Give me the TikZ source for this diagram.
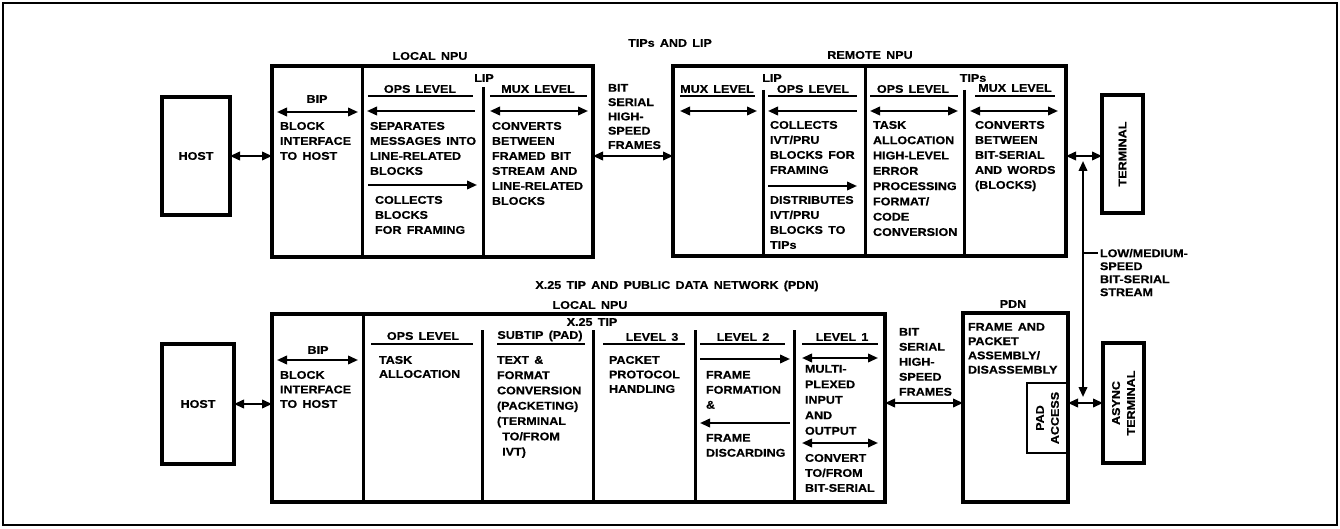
\documentclass[tikz,border=0pt]{standalone}
\usepackage{fontspec}
\newfontfamily\diafont{Liberation Sans}[FakeStretch=1.12, BoldFeatures={FakeStretch=1.12, FakeBold=0.6, WordSpace=1.5}]
\usetikzlibrary{arrows.meta}
\begin{document}
\begin{tikzpicture}[x=1pt,y=-1pt,
  lbl/.style={font=\diafont\bfseries\fontsize{11.2}{15}\selectfont, inner sep=0pt, outer sep=0pt},
  body/.style={lbl, anchor=north west, align=left},
  blk/.style={draw, line width=3.2pt, inner sep=0pt, outer sep=0pt, anchor=north west},
  sep/.style={line width=3pt},
  rule/.style={line width=1.5pt},
  tip/.style={line width=2.1pt},
  both/.style={tip, {Triangle[length=10pt,width=8.5pt]}-{Triangle[length=10pt,width=8.5pt]}},
  fwd/.style={tip, -{Triangle[length=10pt,width=8.5pt]}},
  back/.style={tip, {Triangle[length=10pt,width=8.5pt]}-},
]
\useasboundingbox (0,0) rectangle (1340,529);
\draw[line width=2.4pt] (3,3) rectangle (1337,525);

% ---------------- upper diagram: TIPs and LIP ----------------
\node[lbl] (ttlA) at (670,43) {TIPs AND LIP};
\node[lbl] (lnpuA) at (430,56) {LOCAL NPU};
\node[lbl] (rnpuA) at (870,55) {REMOTE NPU};

\node[blk, lbl, minimum width=68pt, minimum height=118pt] (hostA) at (162,97) {HOST};
\node[blk, minimum width=321pt, minimum height=191pt] (localA) at (272,66) {};
\draw[both] (hostA.east) -- (localA.west |- hostA.east);

% local NPU cells
\draw[sep] (362,66) -- (362,257);
\draw[sep] (483,87) -- (483,257);
\node[lbl] (lipA) at (484,78) {LIP};

\node[lbl] (bipA) at (317,99) {BIP};
\draw[both] (277,112) -- (358,112);
\node[body] (bipAt) at (280,122) {BLOCK\\INTERFACE\\TO HOST};

\node[lbl] (opsA) at (420,89) {OPS LEVEL};
\draw[rule] (368,96) -- (473,96);
\draw[back] (367,111) -- (475,111);
\node[body] (opsAt) at (370,122) {SEPARATES\\MESSAGES INTO\\LINE-RELATED\\BLOCKS};
\draw[fwd] (368,185) -- (477,185);
\node[body] (opsAu) at (375,196) {COLLECTS\\BLOCKS\\FOR FRAMING};

\node[lbl] (muxA) at (538,89) {MUX LEVEL};
\draw[rule] (490,96) -- (587,96);
\draw[both] (490,111) -- (588,111);
\node[body] (muxAt) at (492,122) {CONVERTS\\BETWEEN\\FRAMED BIT\\STREAM AND\\LINE-RELATED\\BLOCKS};

% link between the two NPUs
\node[body, font=\diafont\bfseries\fontsize{11.2}{14.3}\selectfont] (bsA) at (608,84) {BIT\\SERIAL\\HIGH-\\SPEED\\FRAMES};
\node[blk, minimum width=393pt, minimum height=190pt] (remoteA) at (673,66) {};
\draw[both] (localA.east |- hostA.east) -- (remoteA.west |- hostA.east);

% remote NPU cells
\draw[sep] (763,90) -- (763,256);
\draw[sep] (865,66) -- (865,256);
\draw[sep] (964,90) -- (964,256);
\node[lbl] (lipB) at (772,78) {LIP};
\node[lbl] (tipsB) at (973,78) {TIPs};

\node[lbl] (muxB) at (717,89) {MUX LEVEL};
\draw[rule] (680,96) -- (755,96);
\draw[both] (680,111) -- (757,111);

\node[lbl] (opsB) at (813,89) {OPS LEVEL};
\draw[rule] (768,96) -- (857,96);
\draw[back] (768,111) -- (857,111);
\node[body] (opsBt) at (770,121) {COLLECTS\\IVT/PRU\\BLOCKS FOR\\FRAMING};
\draw[fwd] (768,186) -- (857,186);
\node[body] (opsBu) at (770,196) {DISTRIBUTES\\IVT/PRU\\BLOCKS TO\\TIPs};

\node[lbl] (opsC) at (913,89) {OPS LEVEL};
\draw[rule] (870,96) -- (958,96);
\draw[both] (870,111) -- (958,111);
\node[body, font=\diafont\bfseries\fontsize{11.2}{15.3}\selectfont] (opsCt) at (873,121) {TASK\\ALLOCATION\\HIGH-LEVEL\\ERROR\\PROCESSING\\FORMAT/\\CODE\\CONVERSION};

\node[lbl] (muxC) at (1015,88) {MUX LEVEL};
\draw[rule] (975,96) -- (1055,96);
\draw[both] (970,111) -- (1058,111);
\node[body] (muxCt) at (975,121) {CONVERTS\\BETWEEN\\BIT-SERIAL\\AND WORDS\\(BLOCKS)};

% terminals and the low-speed stream
\node[blk, minimum width=41pt, minimum height=118pt] (termA) at (1102,95) {};
\node[lbl, rotate=90] (termAt) at (termA.center) {TERMINAL};
\draw[both] (remoteA.east |- hostA.east) -- (termA.west |- hostA.east);

\coordinate (streamTop) at (1083,161);
\coordinate (streamBot) at (1083,397);
\draw[both] (streamTop) -- (streamBot);
\coordinate (streamTap) at (1083,253);
\coordinate (streamLbl) at (1098,253);
\draw[rule] (streamTap) -- (streamLbl);
\node[body, font=\diafont\bfseries\fontsize{11.2}{13}\selectfont] (streamT) at (1100,249) {LOW/MEDIUM-\\SPEED\\BIT-SERIAL\\STREAM};

% ---------------- lower diagram: X.25 TIP and PDN ----------------
\node[lbl] (ttlB) at (677,286) {X.25 TIP AND PUBLIC DATA NETWORK (PDN)};
\node[lbl] (lnpuB) at (590,305) {LOCAL NPU};
\node[lbl] (x25) at (592,322) {X.25 TIP};

\node[blk, lbl, minimum width=72pt, minimum height=120pt] (hostB) at (162,344) {HOST};
\node[blk, minimum width=613pt, minimum height=188pt] (localB) at (272,314) {};
\draw[both] (hostB.east) -- (localB.west |- hostB.east);

\draw[sep] (363,314) -- (363,502);
\draw[sep] (482,330) -- (482,502);
\draw[sep] (593,330) -- (593,502);
\draw[sep] (695,330) -- (695,502);
\draw[sep] (794,330) -- (794,502);

\node[lbl] (bipB) at (318,350) {BIP};
\draw[both] (277,360) -- (358,360);
\node[body, font=\diafont\bfseries\fontsize{11.2}{14.5}\selectfont] (bipBt) at (280,371) {BLOCK\\INTERFACE\\TO HOST};

\node[lbl] (opsD) at (423,336) {OPS LEVEL};
\draw[rule] (371,344) -- (473,344);
\node[body, font=\diafont\bfseries\fontsize{11.2}{14}\selectfont] (opsDt) at (379,356) {TASK\\ALLOCATION};

\node[lbl] (subtip) at (540,336) {SUBTIP (PAD)};
\draw[rule] (497,344) -- (585,344);
\node[body, font=\diafont\bfseries\fontsize{11.2}{15.3}\selectfont] (subtipT) at (497,356) {TEXT \&\\FORMAT\\CONVERSION\\(PACKETING)\\(TERMINAL\\\ TO/FROM\\\ IVT)};

\node[lbl] (lev3) at (652,337) {LEVEL 3};
\draw[rule] (603,344) -- (685,344);
\node[body, font=\diafont\bfseries\fontsize{11.2}{14.5}\selectfont] (lev3t) at (609,356) {PACKET\\PROTOCOL\\HANDLING};

\node[lbl] (lev2) at (743,337) {LEVEL 2};
\draw[rule] (700,344) -- (785,344);
\draw[fwd] (700,359) -- (790,359);
\node[body] (lev2t) at (706,371) {FRAME\\FORMATION\\\&};
\draw[back] (700,423) -- (790,423);
\node[body] (lev2u) at (706,434) {FRAME\\DISCARDING};

\node[lbl] (lev1) at (842,337) {LEVEL 1};
\draw[rule] (802,344) -- (878,344);
\draw[both] (802,358) -- (878,358);
\node[body, font=\diafont\bfseries\fontsize{11.2}{15.5}\selectfont] (lev1t) at (805,365) {MULTI-\\PLEXED\\INPUT\\AND\\OUTPUT};
\draw[both] (802,443) -- (878,443);
\node[body] (lev1u) at (805,454) {CONVERT\\TO/FROM\\BIT-SERIAL};

% link to the public data network
\node[body] (bsB) at (899,328) {BIT\\SERIAL\\HIGH-\\SPEED\\FRAMES};
\node[lbl] (pdnT) at (1013,304) {PDN};
\node[blk, minimum width=105pt, minimum height=189pt] (pdn) at (963,313) {};
\node[blk, line width=2.4pt, minimum width=41pt, minimum height=70pt] (pad) at (1027,383) {};
\node[lbl, rotate=90, align=center] (padT) at (pad.center) {PAD\\ACCESS};
\node[blk, minimum width=41pt, minimum height=120pt] (async) at (1103,343) {};
\node[lbl, rotate=90, align=center] (asyncT) at (async.center) {ASYNC\\TERMINAL};
\draw[both] (localB.east |- async.west) -- (pdn.west |- async.west);
\node[body, font=\diafont\bfseries\fontsize{11.2}{14.3}\selectfont] (pdnt) at (968,323) {FRAME AND\\PACKET\\ASSEMBLY/\\DISASSEMBLY};
\draw[both] (pdn.east |- async.west) -- (async.west);
\end{tikzpicture}
\end{document}
